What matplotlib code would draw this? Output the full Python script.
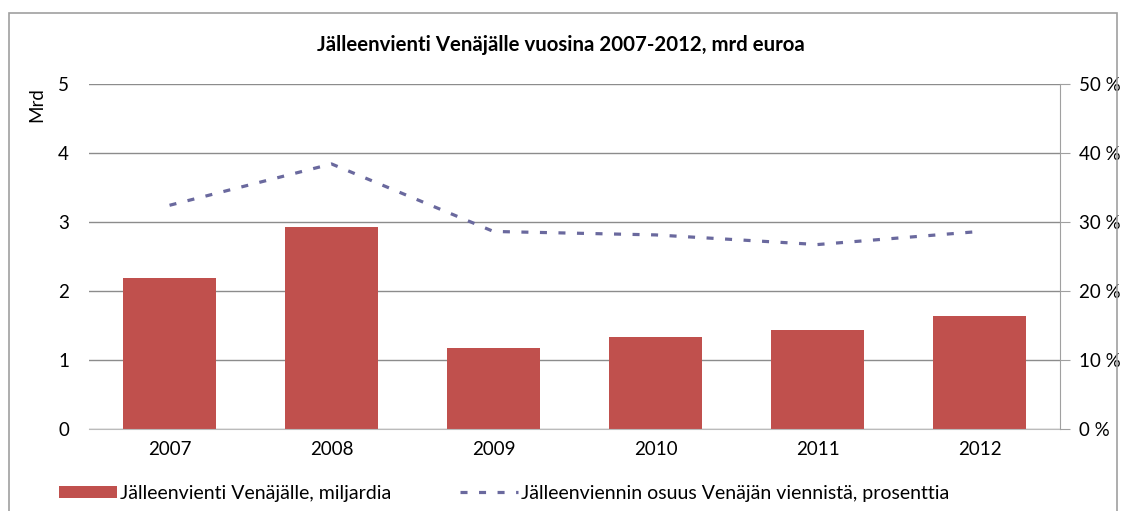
import numpy as np
import matplotlib.pyplot as plt
from matplotlib.patches import Patch, Rectangle
from matplotlib.lines import Line2D

plt.rcParams['font.family'] = ['Lato', 'DejaVu Sans']

years = ['2007', '2008', '2009', '2010', '2011', '2012']
reexport_bn = [2.18, 2.92, 1.17, 1.33, 1.43, 1.63]
share_pct = [32.4, 38.4, 28.6, 28.1, 26.7, 28.6]

bar_color = '#C0504D'
line_color = '#6A699E'
grid_color = '#8C8C8C'
fs = 13.5
dash = (0, (2.2, 3.6))

fig = plt.figure(figsize=(11.21, 5.11), dpi=100)
ax = fig.add_axes([0.079, 0.1614, 0.867, 0.6742])
ax2 = ax.twinx()

x = np.arange(len(years))
ax.bar(x, reexport_bn, width=0.575, color=bar_color, zorder=2)
ax.set_xlim(-0.5, len(years) - 0.5)
ax.set_ylim(0, 5)
ax.set_yticks(range(6))
ax.yaxis.grid(True, color=grid_color, lw=1)
ax.set_axisbelow(True)
ax.set_xticks(x)
ax.set_xticklabels(years)
ax.tick_params(axis='both', length=0, labelsize=fs, colors='black')
ax.tick_params(axis='y', pad=14)
ax.tick_params(axis='x', pad=9)
for s in ['top', 'right', 'left']:
    ax.spines[s].set_visible(False)
ax.spines['bottom'].set_color('#BBBBBB')
ax.set_ylabel('Mrd', fontsize=fs)
ax.yaxis.set_label_coords(-0.045, 0.94)

ax2.plot(x, share_pct, color=line_color, lw=2.3, linestyle=dash,
         dash_capstyle='butt', zorder=3)
ax2.set_ylim(0, 50)
ax2.set_yticks(range(0, 51, 10))
ax2.set_yticklabels([f'{v} %' for v in range(0, 51, 10)])
ax2.tick_params(axis='y', length=7, color='#A0A0A0', labelsize=fs, pad=6)
for s in ['top', 'left', 'bottom']:
    ax2.spines[s].set_visible(False)
ax2.spines['right'].set_color('#A0A0A0')

fig.text(0.5, 0.912, 'Jälleenvienti Venäjälle vuosina 2007-2012, mrd euroa',
         ha='center', va='center', fontsize=14.7, fontweight='bold')

handles = [Patch(facecolor=bar_color, edgecolor='none'),
           Line2D([0], [0], color=line_color, lw=2.3, linestyle=dash, dash_capstyle='butt')]
labels = ['Jälleenvienti Venäjälle, miljardia', 'Jälleenviennin osuus Venäjän viennistä, prosenttia']
fig.legend(handles, labels, loc='center left', bbox_to_anchor=(0.037, 0.035), ncol=2,
           frameon=False, fontsize=14, handlelength=3.0, handleheight=0.6,
           handletextpad=0.15, columnspacing=3.5)

fig.patches.append(Rectangle((9 / 1121, -0.1), (1117 - 9) / 1121, 1.1 - 13 / 511,
                             transform=fig.transFigure, fill=False,
                             edgecolor='#A0A0A0', lw=1.2))

fig.savefig('out.png', dpi=100)
